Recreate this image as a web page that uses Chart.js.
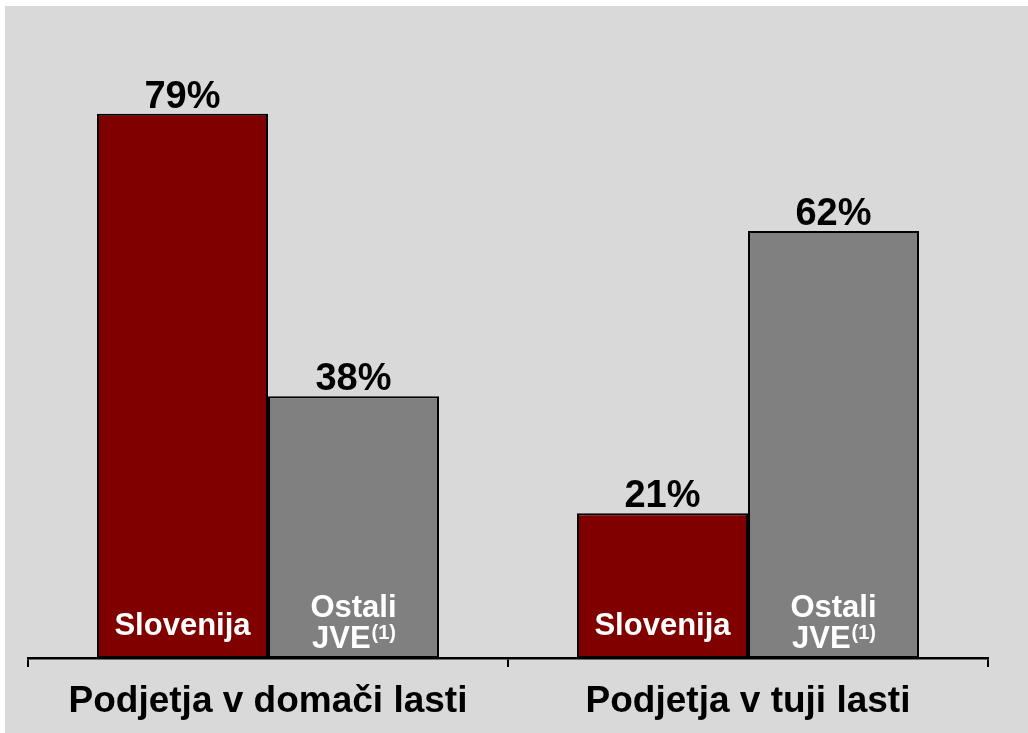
<!DOCTYPE html>
<html>
<head>
<meta charset="utf-8">
<script src="https://cdn.jsdelivr.net/npm/chart.js@4"></script>
<style>
  html, body { margin: 0; padding: 0; background: #fff; }
  #wrap { width: 1028px; height: 733px; }
</style>
</head>
<body>
<div id="wrap"><canvas id="chart"></canvas></div>
<script>
// Podatki
const categories = ['Podjetja v domači lasti', 'Podjetja v tuji lasti'];
const slovenija = [79, 21];
const ostaliJVE = [38, 62];
const seriesNames = ['Slovenija', 'Ostali JVE'];

const FONT = '"Liberation Sans", Arial, sans-serif';

// Ozadje (sivo polje z belim robom levo in zgoraj)
const background = {
    id: 'background',
    beforeDraw(chart) {
        const c = chart.ctx;
        c.save();
        c.fillStyle = '#ffffff';
        c.fillRect(0, 0, chart.width, chart.height);
        c.fillStyle = '#d9d9d9';
        c.fillRect(5, 6, chart.width - 5, chart.height - 6);
        c.restore();
    }
};

// Oznake vrednosti nad stolpci in imena serij v stolpcih
const labels = {
    id: 'labels',
    afterDatasetsDraw(chart) {
        const c = chart.ctx;
        c.save();
        c.textAlign = 'center';
        c.textBaseline = 'alphabetic';
        chart.data.datasets.forEach((ds, di) => {
            chart.getDatasetMeta(di).data.forEach((bar, i) => {
                // vrednost
                c.fillStyle = '#000';
                c.font = 'bold 38px ' + FONT;
                c.fillText(ds.data[i] + '%', bar.x, bar.y - 6);

                // ime serije
                c.fillStyle = '#fff';
                c.font = 'bold 31px ' + FONT;
                if (di === 0) {
                    c.fillText('Slovenija', bar.x, 635);
                } else {
                    c.fillText('Ostali', bar.x, 617);
                    const main = 'JVE';
                    const sup = '(1)';
                    c.font = 'bold 31px ' + FONT;
                    const wMain = c.measureText(main).width;
                    c.font = 'bold 20px ' + FONT;
                    const wSup = c.measureText(sup).width;
                    const x0 = bar.x - (wMain + wSup) / 2;
                    c.textAlign = 'left';
                    c.font = 'bold 31px ' + FONT;
                    c.fillText(main, x0, 648);
                    c.font = 'bold 20px ' + FONT;
                    c.fillText(sup, x0 + wMain + 1, 639);
                    c.textAlign = 'center';
                }
            });
        });
        c.restore();
    }
};

const chart = new Chart(document.getElementById('chart'), {
    type: 'bar',
    data: {
        labels: categories,
        datasets: [
            {
                label: seriesNames[0],
                data: slovenija,
                backgroundColor: '#800000',
                borderColor: '#000',
                borderWidth: 2,
                borderSkipped: false,
                categoryPercentage: 0.7125,
                barPercentage: 1
            },
            {
                label: seriesNames[1],
                data: ostaliJVE,
                backgroundColor: '#808080',
                borderColor: '#000',
                borderWidth: 2,
                borderSkipped: false,
                categoryPercentage: 0.7125,
                barPercentage: 1
            }
        ]
    },
    options: {
        responsive: true,
        maintainAspectRatio: false,
        animation: false,
        layout: { padding: { left: 28, right: 40, top: 38, bottom: 0 } },
        plugins: {
            legend: { display: false },
            tooltip: { enabled: false }
        },
        scales: {
            x: {
                afterFit: s => { s.height = 75; },
                grid: {
                    offset: true,
                    drawOnChartArea: false,
                    drawTicks: true,
                    tickLength: 9,
                    color: '#000',
                    lineWidth: 2
                },
                border: { color: '#000', width: 2.5 },
                ticks: {
                    color: '#000',
                    padding: 13,
                    font: { family: FONT, size: 37, weight: 'bold' }
                }
            },
            y: {
                display: false,
                min: 0,
                max: 90
            }
        }
    },
    plugins: [background, labels]
});
</script>
</body>
</html>
